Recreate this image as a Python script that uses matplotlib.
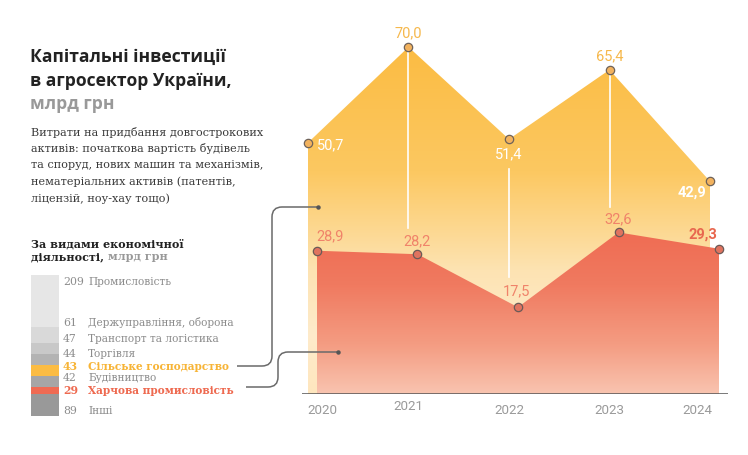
import numpy as np
import matplotlib
matplotlib.use("Agg")
import matplotlib.pyplot as plt
from matplotlib.path import Path
from matplotlib.patches import PathPatch, Rectangle
from matplotlib.colors import to_rgb

# ---------------- data ----------------
years = [2020, 2021, 2022, 2023, 2024]
agri = [50.7, 70.0, 51.4, 65.4, 42.9]          # Сільське господарство
food = [28.9, 28.2, 17.5, 32.6, 29.3]          # Харчова промисловість
agri_labels = ["50,7", "70,0", "51,4", "65,4", "42,9"]
food_labels = ["28,9", "28,2", "17,5", "32,6", "29,3"]

sector_values = [209, 61, 47, 44, 43, 42, 29, 89]
sector_names = ["Промисловість", "Держуправління, оборона", "Транспорт та логістика",
                "Торгівля", "Сільське господарство", "Будівництво",
                "Харчова промисловість", "Інші"]

# ---------------- style ----------------
W, H = 748, 455
ORANGE = "#FBBC43"
RED = "#EF6B53"
ORANGE_TXT = "#F6B84C"
RED_TXT = "#F0836A"
GRAY_TXT = "#8C8C8C"
seg_colors = ["#E6E6E6", "#D9D9D9", "#C8C8C8", "#B3B3B3", ORANGE, "#A6A6A6", RED, "#999999"]
SANS = ["Roboto", "DejaVu Sans"]
TITLE = ["Open Sans", "DejaVu Sans"]
SLAB = ["DejaVu Serif", "DejaVu Sans"]

fig = plt.figure(figsize=(W / 100, H / 100), dpi=100)
fig.patch.set_facecolor("white")

# data axes placed in pixel geometry
PXU = 4.957        # pixels per unit
PXY = 100.5        # pixels per year
ax_l, ax_r, ax_b, ax_t = 302, 728, 394, 20
ax = fig.add_axes([ax_l / W, (H - ax_b) / H, (ax_r - ax_l) / W, (ax_b - ax_t) / H])
ax.set_facecolor("none")
x0 = years[0] - (308 - ax_l) / PXY
x1 = years[0] + (ax_r - 308) / PXY
RED_SHIFT = 9 / PXY

xa = np.array(years, dtype=float)
xf = xa + RED_SHIFT


def grad_fill(x, y, stops, zorder):
    poly = ax.fill(np.r_[x[0], x, x[-1]], np.r_[0, y, 0], facecolor="none",
                   edgecolor="none", zorder=zorder)[0]
    ymax = max(y)
    vals = np.linspace(ymax, 0, 300)
    sv = np.array([s[0] for s in stops])[::-1]
    sc = np.array([to_rgb(s[1]) for s in stops])[::-1]
    img = np.zeros((300, 2, 3))
    for k in range(3):
        img[:, :, k] = np.interp(vals, sv, sc[:, k])[:, None]
    im = ax.imshow(img, extent=[x[0], x[-1], 0, ymax], aspect="auto",
                   origin="upper", zorder=zorder, interpolation="bilinear")
    im.set_clip_path(poly)


grad_fill(xa, agri, [(70, "#FBBC43"), (45, "#FCC861"), (25, "#FDE3B2"),
                     (12, "#FEEBCB"), (0, "#FEE6BE")], 1)
grad_fill(xf, food, [(32.6, "#EF6C53"), (22, "#F07A60"), (10, "#F49C82"),
                     (0, "#F9C4B0")], 2)

# white leader lines
leader = [(1, 70.0, 33.5), (2, 45.4, 23.6), (3, 65.4, 37.7)]
for i, ytop, ybot in leader:
    ax.plot([xa[i], xa[i]], [ybot, ytop], color="white", lw=1.2, zorder=3)

ax.plot(xa, agri, "o", ms=6, mfc="#F2B25E", mec="#6E6259", mew=0.9, zorder=6)
ax.plot(xf, food, "o", ms=6, mfc="#E0735F", mec="#6B5A57", mew=0.9, zorder=6)

ax.axhline(0, color="#555555", lw=1.1, zorder=7)

# value labels (offsets in pixels)
FS = 10.5
agri_off = [(9, -3, "left", "white", "normal"), (0, 14, "center", ORANGE_TXT, "normal"),
            (0, -15, "center", "white", "normal"), (0, 14, "center", ORANGE_TXT, "normal"),
            (-4, -11, "right", "white", "bold")]
for xi, yi, lab, (dx, dy, ha, c, w) in zip(xa, agri, agri_labels, agri_off):
    ax.annotate(lab, (xi, yi), xytext=(dx, dy), textcoords="offset pixels",
                ha=ha, va="center", color=c, fontsize=FS, fontweight=w,
                family=SANS, zorder=8)
food_off = [(13, 14, RED_TXT, "normal"), (0, 13, RED_TXT, "normal"), (-1, 16, RED_TXT, "normal"),
            (0, 13, RED_TXT, "normal"), (-16, 14, "#E8674F", "bold")]
for xi, yi, lab, (dx, dy, c, w) in zip(xf, food, food_labels, food_off):
    ax.annotate(lab, (xi, yi), xytext=(dx, dy), textcoords="offset pixels",
                ha="center", va="center", color=c, fontsize=FS, fontweight=w,
                family=SANS, zorder=8)

# year labels
year_off = [(14, 0), (0, 4), (0, 0), (0, 0), (-13, 0)]
for xi, yr, (dx, dy) in zip(xa, years, year_off):
    ax.annotate(str(yr), (xi, 0), xytext=(dx, -16 + dy), textcoords="offset pixels",
                ha="center", va="center", color="#9A9A9A", fontsize=9.6,
                family=SANS, annotation_clip=False)

ax.set_xlim(x0, x1)
ax.set_ylim(0, (ax_b - ax_t) / PXU)
ax.axis("off")

# ---------------- overlay in pixel coordinates ----------------
ov = fig.add_axes([0, 0, 1, 1], zorder=10)
ov.set_xlim(0, W)
ov.set_ylim(H, 0)
ov.axis("off")
ov.patch.set_alpha(0)

# title
ov.text(30, 57, "Капітальні інвестиції", fontsize=12.6, fontweight="bold",
        family=TITLE, color="#222222", va="center")
ov.text(30, 81, "в агросектор України,", fontsize=12.6, fontweight="bold",
        family=TITLE, color="#222222", va="center")
ov.text(30, 104, "млрд грн", fontsize=12.6, fontweight="bold",
        family=TITLE, color="#999999", va="center")

sub = ["Витрати на придбання довгострокових",
       "активів: початкова вартість будівель",
       "та споруд, нових машин та механізмів,",
       "нематеріальних активів (патентів,",
       "ліцензій, ноу-хау тощо)"]
for k, s in enumerate(sub):
    ov.text(31, 132 + k * 16.7, s, fontsize=8.1, family=SLAB, color="#3A3A3A", va="center")

ov.text(31, 244, "За видами економічної", fontsize=8.0, fontweight="bold",
        family=SLAB, color="#222222", va="center")
t1 = ov.text(31, 257, "діяльності, ", fontsize=8.0, fontweight="bold",
             family=SLAB, color="#222222", va="center")
ov.annotate("млрд грн", xycoords=t1, xy=(1, 0.5), va="center", fontsize=8.0,
            fontweight="bold", family=SLAB, color="#999999")

# stacked bar
total = sum(sector_values)
bar_top, bar_bot = 275, 416
scale = (bar_bot - bar_top) / total
yy = bar_top
for v, c in zip(sector_values, seg_colors):
    ov.add_patch(Rectangle((31, yy), 28, v * scale, facecolor=c, edgecolor="none"))
    yy += v * scale

label_y = [282, 323, 339, 354, 366, 378, 390, 411]
for v, n, ly, c in zip(sector_values, sector_names, label_y, seg_colors):
    if c == ORANGE:
        col, w = "#F7B436", "bold"
    elif c == RED:
        col, w = "#EE6A50", "bold"
    else:
        col, w = GRAY_TXT, "normal"
    ov.text(63, ly, str(v), fontsize=7.8, family=SLAB, color=col, fontweight=w, va="center")
    ov.text(88, ly, n, fontsize=7.6, family=SLAB, color=col, fontweight=w, va="center")


def connector(pts, end):
    codes = [Path.MOVETO if i == 0 else (Path.LINETO if p[2] == 0 else Path.CURVE3)
             for i, p in enumerate(pts)]
    vv = [(p[0], p[1]) for p in pts]
    ov.add_patch(PathPatch(Path(vv, codes), facecolor="none", edgecolor="#6A6A6A", lw=1.1))
    ov.plot([end[0]], [end[1]], "o", ms=2.2, color="#555555")


# upper connector (Сільське господарство)
connector([(237, 366, 0), (262, 366, 0), (272, 366, 1), (272, 356, 1),
           (272, 217, 0), (272, 207, 1), (282, 207, 1), (318, 207, 0)], (318, 207))
# lower connector (Харчова промисловість)
connector([(246, 387, 0), (268, 387, 0), (278, 387, 1), (278, 377, 1),
           (278, 362, 0), (278, 352, 1), (288, 352, 1), (338, 352, 0)], (338, 352))

fig.savefig("out.png", dpi=100)
